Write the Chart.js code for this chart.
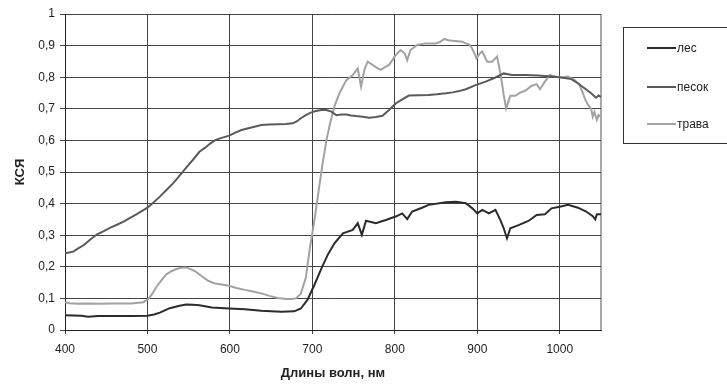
<!DOCTYPE html>
<html>
<head>
<meta charset="utf-8">
<script src="https://cdn.jsdelivr.net/npm/chart.js@4/dist/chart.umd.min.js"></script>
<style>
  html, body { margin: 0; padding: 0; background: #fff; }
  #wrap { position: relative; width: 727px; height: 385px; overflow: hidden; }
  #legend { position: absolute; left: 623px; top: 27px; width: 120px; height: 117px;
            border: 1px solid #333; box-sizing: border-box; font-family: "Liberation Sans", Arial, sans-serif;
            font-size: 12px; color: #222; }
  .item { position: absolute; left: 23px; height: 14px; line-height: 14px; white-space: nowrap; }
  .swatch { display: inline-block; width: 29px; height: 2px; vertical-align: middle; margin-right: 1px; position: relative; top: -1px; }
</style>
</head>
<body>
<div id="wrap">
  <canvas id="c" width="727" height="385"></canvas>
  <div id="legend"></div>
</div>
<script>
// ---- data ----
const seriesNames = ['лес', 'песок', 'трава'];
const xTitle = 'Длины волн, нм';
const yTitle = 'КСЯ';

const lesX = [400, 410, 420, 428, 440, 460, 480, 500, 508, 515, 527, 539, 547, 555, 563, 578, 599, 618, 638, 662, 678, 686, 694, 702, 711, 719, 727, 737, 749, 755, 760, 765, 777, 789, 801, 809, 815, 821, 833, 841, 862, 874, 886, 894, 900, 906, 914, 922, 928, 932, 936, 940, 950, 962, 972, 982, 990, 1000, 1010, 1022, 1032, 1040, 1043, 1045, 1050];
const lesY = [0.047, 0.046, 0.045, 0.042, 0.044, 0.044, 0.044, 0.045, 0.049, 0.055, 0.069, 0.077, 0.081, 0.080, 0.078, 0.071, 0.068, 0.066, 0.061, 0.058, 0.059, 0.068, 0.095, 0.140, 0.195, 0.240, 0.275, 0.306, 0.317, 0.338, 0.301, 0.346, 0.338, 0.348, 0.359, 0.369, 0.351, 0.375, 0.387, 0.396, 0.404, 0.406, 0.401, 0.385, 0.369, 0.380, 0.369, 0.380, 0.348, 0.322, 0.290, 0.322, 0.332, 0.345, 0.364, 0.366, 0.385, 0.390, 0.396, 0.387, 0.375, 0.360, 0.350, 0.366, 0.366];

const pesokX = [400, 405, 410, 416, 423, 431, 439, 447, 455, 463, 471, 479, 487, 494, 500, 508, 515, 523, 531, 537, 543, 549, 555, 563, 570, 576, 582, 590, 599, 606, 614, 626, 638, 648, 658, 668, 676, 681, 686, 692, 698, 704, 711, 717, 723, 729, 735, 741, 747, 753, 761, 769, 777, 785, 793, 801, 809, 817, 829, 841, 851, 862, 870, 878, 886, 898, 910, 922, 932, 942, 958, 974, 990, 1002, 1014, 1022, 1030, 1038, 1044, 1047, 1050];
const pesokY = [0.243, 0.245, 0.248, 0.258, 0.269, 0.287, 0.303, 0.313, 0.324, 0.333, 0.343, 0.355, 0.367, 0.378, 0.387, 0.405, 0.422, 0.443, 0.464, 0.482, 0.501, 0.520, 0.538, 0.564, 0.577, 0.590, 0.601, 0.608, 0.615, 0.624, 0.633, 0.641, 0.649, 0.650, 0.651, 0.652, 0.654, 0.660, 0.670, 0.680, 0.688, 0.693, 0.696, 0.696, 0.691, 0.680, 0.682, 0.682, 0.679, 0.677, 0.675, 0.672, 0.674, 0.678, 0.696, 0.717, 0.730, 0.742, 0.743, 0.744, 0.746, 0.749, 0.752, 0.756, 0.762, 0.775, 0.786, 0.799, 0.812, 0.807, 0.807, 0.805, 0.802, 0.799, 0.794, 0.781, 0.765, 0.749, 0.735, 0.742, 0.738];

const travaX = [400, 405, 415, 425, 440, 460, 480, 495, 501, 506, 511, 517, 523, 529, 535, 541, 547, 553, 559, 566, 574, 582, 590, 599, 608, 618, 628, 638, 648, 658, 668, 674, 680, 686, 692, 697, 702, 707, 712, 717, 722, 727, 733, 741, 749, 755, 759, 763, 767, 773, 778, 783, 788, 793, 801, 807, 812, 815, 819, 827, 837, 850, 855, 860, 865, 870, 876, 882, 886, 890, 894, 899, 903, 906, 912, 918, 924, 928, 930, 932, 935, 940, 946, 952, 958, 966, 972, 976, 982, 988, 994, 1002, 1010, 1018, 1024, 1028, 1031, 1035, 1038, 1040, 1042, 1045, 1047, 1050];
const travaY = [0.088, 0.085, 0.083, 0.084, 0.083, 0.084, 0.084, 0.088, 0.098, 0.115, 0.137, 0.158, 0.176, 0.186, 0.193, 0.197, 0.198, 0.192, 0.184, 0.170, 0.155, 0.147, 0.144, 0.140, 0.133, 0.127, 0.122, 0.116, 0.108, 0.101, 0.098, 0.098, 0.100, 0.115, 0.165, 0.260, 0.340, 0.430, 0.520, 0.600, 0.660, 0.710, 0.750, 0.790, 0.807, 0.828, 0.770, 0.823, 0.849, 0.839, 0.830, 0.823, 0.832, 0.839, 0.870, 0.886, 0.875, 0.854, 0.886, 0.902, 0.907, 0.907, 0.912, 0.921, 0.917, 0.915, 0.914, 0.912, 0.907, 0.904, 0.890, 0.860, 0.875, 0.881, 0.849, 0.849, 0.865, 0.812, 0.780, 0.744, 0.701, 0.741, 0.741, 0.751, 0.757, 0.773, 0.778, 0.762, 0.786, 0.807, 0.802, 0.799, 0.802, 0.791, 0.775, 0.750, 0.728, 0.710, 0.700, 0.675, 0.690, 0.665, 0.680, 0.675];

const xTicks = [400, 500, 600, 700, 800, 900, 1000];
const yTicks = [0, 0.1, 0.2, 0.3, 0.4, 0.5, 0.6, 0.7, 0.8, 0.9, 1];

const colors = ['#2b2b2b', '#5a5a5a', '#a2a2a2'];

// ---- build chart ----
const toPts = (xs, ys) => xs.map((x, i) => ({ x: x, y: ys[i] }));
const FONT = '"Liberation Sans", Arial, sans-serif';
const GRID = '#444';

const datasets = [
  { label: seriesNames[0], data: toPts(lesX, lesY) },
  { label: seriesNames[1], data: toPts(pesokX, pesokY) },
  { label: seriesNames[2], data: toPts(travaX, travaY) }
].map((d, i) => Object.assign(d, {
  borderColor: colors[i], backgroundColor: colors[i], borderWidth: 2,
  pointRadius: 0, tension: 0, fill: false
}));

const chart = new Chart(document.getElementById('c'), {
  type: 'line',
  data: { datasets: datasets },
  options: {
    responsive: false,
    animation: false,
    layout: { padding: { top: 14, right: 126, left: 13, bottom: 0 } },
    plugins: { legend: { display: false }, tooltip: { enabled: false } },
    scales: {
      x: {
        type: 'linear', min: 400, max: 1050,
        afterFit: s => { s.height = 55; },
        afterBuildTicks: s => { s.ticks = xTicks.map(v => ({ value: v })).concat([{ value: 1050 }]); },
        ticks: {
          autoSkip: false, maxRotation: 0, padding: 8,
          font: { family: FONT, size: 12 }, color: '#222',
          callback: v => (xTicks.includes(v) ? String(v) : '')
        },
        grid: {
          color: c => (c.tick && c.tick.value === 1050 ? '#a8a8a8' : GRID),
          lineWidth: c => (c.tick && c.tick.value === 1050 ? 2 : 1),
          tickColor: c => (c.tick && c.tick.value === 1050 ? 'rgba(0,0,0,0)' : GRID),
          tickLength: 4
        },
        border: { color: '#222', width: 1 },
        title: { display: true, text: xTitle, font: { family: FONT, size: 13, weight: 'bold' }, color: '#222', padding: { top: 4, bottom: 4 } }
      },
      y: {
        min: 0, max: 1,
        afterFit: s => { s.width = 52; },
        afterBuildTicks: s => { s.ticks = yTicks.map(v => ({ value: v })); },
        ticks: {
          padding: 5,
          font: { family: FONT, size: 12 }, color: '#222',
          callback: v => (v === 0 || v === 1 ? String(v) : v.toFixed(1).replace('.', ','))
        },
        grid: { color: GRID, lineWidth: 1, tickColor: GRID, tickLength: 5 },
        border: { color: '#222', width: 1 },
        title: { display: true, text: yTitle, font: { family: FONT, size: 13, weight: 'bold' }, color: '#222', padding: { top: 0, bottom: 4 } }
      }
    }
  }
});

// ---- HTML legend built from the datasets ----
const legend = document.getElementById('legend');
const rowTops = [13, 52, 89];
chart.data.datasets.forEach((d, i) => {
  const row = document.createElement('div');
  row.className = 'item';
  row.style.top = rowTops[i] + 'px';
  const sw = document.createElement('span');
  sw.className = 'swatch';
  sw.style.background = d.borderColor;
  row.appendChild(sw);
  row.appendChild(document.createTextNode(d.label));
  legend.appendChild(row);
});
</script>
</body>
</html>
